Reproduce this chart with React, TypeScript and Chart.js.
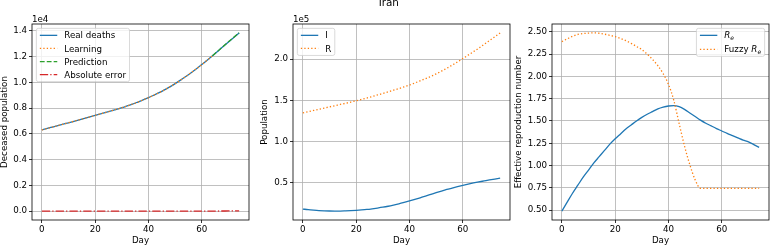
import React, { useEffect, useRef } from "react";
import { Chart, registerables } from "chart.js";

Chart.register(...registerables);

const FONT = "'DejaVu Sans', 'Liberation Sans', sans-serif";
const FS = 8.7;

// ---------- data ----------
const days = [0, 2, 4, 6, 8, 10, 12, 14, 16, 18, 20, 22, 24, 26, 28, 30, 32, 34, 36, 38, 40, 42, 44, 46, 48, 50, 52, 54, 56, 58, 60, 62, 64, 66, 68, 70, 72, 74];
const learningDays = [0, 2, 4, 6, 8, 10, 12, 14, 16, 18, 20, 22, 24, 26, 28, 30, 32, 34, 36, 38, 40, 42, 44, 46, 48, 50, 52, 54, 56, 58, 60, 62, 64];
const predictionDays = [64, 66, 68, 70, 72, 74];

const deathsReal = [6310, 6420, 6530, 6640, 6750, 6860, 6975, 7090, 7200, 7315, 7430, 7545, 7660, 7780, 7905, 8030, 8170, 8310, 8470, 8635, 8810, 9000, 9200, 9420, 9650, 9900, 10170, 10450, 10750, 11060, 11380, 11720, 12070, 12420, 12780, 13140, 13490, 13840];
const deathsLearning = [6305, 6415, 6528, 6640, 6752, 6862, 6975, 7088, 7202, 7316, 7432, 7548, 7664, 7783, 7906, 8033, 8168, 8312, 8468, 8636, 8812, 9002, 9204, 9418, 9652, 9902, 10168, 10452, 10748, 11062, 11378, 11722, 12068];
const deathsPrediction = [12068, 12425, 12788, 13150, 13500, 13855];
const absError = [5, 5, 2, 0, 2, 2, 0, 2, 2, 1, 2, 3, 4, 3, 1, 3, 2, 2, 2, 1, 2, 2, 4, 2, 2, 2, 2, 2, 2, 2, 2, 2, 2, 5, 8, 10, 10, 15];

const infected = [17800, 17000, 16400, 15900, 15600, 15400, 15300, 15300, 15500, 15800, 16200, 16700, 17300, 18100, 19000, 20000, 21200, 22600, 24100, 25800, 27600, 29500, 31500, 33500, 35600, 37700, 39700, 41600, 43300, 45000, 46600, 48100, 49500, 50800, 52000, 53200, 54300, 55400];
const recovered = [134800, 136200, 137700, 139100, 140600, 142100, 143500, 145000, 146400, 147900, 149400, 151100, 152800, 154600, 156500, 158400, 160300, 162300, 164300, 166400, 168600, 171100, 173700, 176300, 179100, 182100, 185500, 189000, 192800, 196700, 200800, 205000, 209200, 213500, 218200, 222800, 227400, 232000];

const reEffective = [0.49, 0.59, 0.69, 0.78, 0.87, 0.95, 1.03, 1.1, 1.17, 1.24, 1.3, 1.355, 1.41, 1.455, 1.5, 1.54, 1.575, 1.605, 1.635, 1.655, 1.668, 1.672, 1.66, 1.63, 1.59, 1.55, 1.51, 1.475, 1.445, 1.415, 1.388, 1.36, 1.335, 1.31, 1.285, 1.265, 1.235, 1.205];
const reFuzzy = [2.39, 2.42, 2.45, 2.47, 2.48, 2.485, 2.487, 2.483, 2.473, 2.46, 2.445, 2.425, 2.4, 2.37, 2.335, 2.3, 2.25, 2.19, 2.12, 2.03, 1.91, 1.73, 1.47, 1.22, 1.01, 0.84, 0.745, 0.745, 0.745, 0.745, 0.745, 0.745, 0.745, 0.745, 0.745, 0.745, 0.745, 0.745];

const xTicks = [0, 20, 40, 60];
const yTicksDeaths = [0, 2000, 4000, 6000, 8000, 10000, 12000, 14000];
const yTicksPopulation = [50000, 100000, 150000, 200000];
const yTicksRe = [0.5, 0.75, 1.0, 1.25, 1.5, 1.75, 2.0, 2.25, 2.5];

// ---------- styles ----------
const C0 = "#1f77b4";
const C1 = "#ff7f0e";
const C2 = "#2ca02c";
const C3 = "#d62728";
const LW = 1.3;
const SOLID: number[] = [];
const DOT = [1.3, 2.15];
const DASH = [4.8, 2.1];
const DASHDOT = [8.3, 2.1, 1.3, 2.1];

type Seg = { text: string; italic?: boolean; sub?: boolean };
type LegendEntry = { label: Seg[]; color: string; dash: number[] };

interface PanelSpec {
  left: number;
  width: number;
  yAxisWidth: number;
  rightPad: number;
  datasets: any[];
  yTicks: number[];
  yFormat: (v: number) => string;
  yTitle: string;
  yRange: { min: number; max: number };
  offsetText?: string;
  legend: LegendEntry[];
  legendCorner: "left" | "right";
  rowStep: number;
}

function pairs(xs: number[], ys: number[]) {
  return xs.map((x, i) => ({ x, y: ys[i] }));
}

function padRange(values: number[]) {
  const lo = Math.min(...values);
  const hi = Math.max(...values);
  const m = (hi - lo) * 0.05;
  return { min: lo - m, max: hi + m };
}

function line(label: string, xs: number[], ys: number[], color: string, dash: number[], order: number) {
  return {
    label,
    data: pairs(xs, ys),
    borderColor: color,
    backgroundColor: color,
    borderWidth: LW,
    borderDash: dash,
    borderCapStyle: "butt",
    pointRadius: 0,
    cubicInterpolationMode: "monotone",
    fill: false,
    order,
  };
}

function segFont(s: Seg) {
  if (s.sub) return `italic ${FS * 0.7}px ${FONT}`;
  if (s.italic) return `italic ${FS}px ${FONT}`;
  return `${FS}px ${FONT}`;
}

function mplPlugin(spec: PanelSpec) {
  return {
    id: "mplDecor",
    afterDatasetsDraw(chart: any) {
      const { ctx, chartArea: ca } = chart;
      ctx.save();
      // spines
      ctx.setLineDash([]);
      ctx.strokeStyle = "#000";
      ctx.lineWidth = 0.8;
      ctx.strokeRect(ca.left, ca.top, ca.right - ca.left, ca.bottom - ca.top);

      // offset text
      if (spec.offsetText) {
        ctx.fillStyle = "#000";
        ctx.font = `${FS}px ${FONT}`;
        ctx.textAlign = "left";
        ctx.textBaseline = "alphabetic";
        ctx.fillText(spec.offsetText, ca.left, ca.top - 2);
      }

      // legend
      const pad = 3.5;
      const handle = 17.4;
      const gap = 7;
      const widths = spec.legend.map((e) =>
        e.label.reduce((acc, s) => {
          ctx.font = segFont(s);
          return acc + ctx.measureText(s.text).width;
        }, 0)
      );
      const textW = Math.max(...widths);
      const boxW = pad + handle + gap + textW + pad;
      const n = spec.legend.length;
      const boxH = 7 + (n - 1) * spec.rowStep + 7;
      const bx = spec.legendCorner === "left" ? ca.left + 4.35 : ca.right - 4.35 - boxW;
      const by = ca.top + 4.35;

      ctx.beginPath();
      const r = 2;
      ctx.moveTo(bx + r, by);
      ctx.lineTo(bx + boxW - r, by);
      ctx.arcTo(bx + boxW, by, bx + boxW, by + r, r);
      ctx.lineTo(bx + boxW, by + boxH - r);
      ctx.arcTo(bx + boxW, by + boxH, bx + boxW - r, by + boxH, r);
      ctx.lineTo(bx + r, by + boxH);
      ctx.arcTo(bx, by + boxH, bx, by + boxH - r, r);
      ctx.lineTo(bx, by + r);
      ctx.arcTo(bx, by, bx + r, by, r);
      ctx.closePath();
      ctx.fillStyle = "rgba(255,255,255,0.8)";
      ctx.fill();
      ctx.strokeStyle = "rgba(204,204,204,0.8)";
      ctx.lineWidth = 0.9;
      ctx.stroke();

      spec.legend.forEach((e, i) => {
        const cy = by + 7 + i * spec.rowStep;
        ctx.beginPath();
        ctx.setLineDash(e.dash);
        ctx.lineCap = "butt";
        ctx.strokeStyle = e.color;
        ctx.lineWidth = LW;
        ctx.moveTo(bx + pad, cy);
        ctx.lineTo(bx + pad + handle, cy);
        ctx.stroke();
        ctx.setLineDash([]);
        let tx = bx + pad + handle + gap;
        const base = cy + 3.1;
        ctx.fillStyle = "#000";
        ctx.textAlign = "left";
        ctx.textBaseline = "alphabetic";
        e.label.forEach((s) => {
          ctx.font = segFont(s);
          ctx.fillText(s.text, tx, s.sub ? base + 1.8 : base);
          tx += ctx.measureText(s.text).width;
        });
      });
      ctx.restore();
    },
  };
}

function makeConfig(spec: PanelSpec): any {
  const tickFont = { family: FONT, size: FS, lineHeight: 1 };
  return {
    type: "line",
    data: { datasets: spec.datasets },
    plugins: [mplPlugin(spec)],
    options: {
      animation: false,
      responsive: false,
      devicePixelRatio: 1,
      layout: { padding: { left: 0, right: spec.rightPad, top: 24, bottom: 0 } },
      plugins: { legend: { display: false }, tooltip: { enabled: false }, title: { display: false } },
      scales: {
        x: {
          type: "linear",
          min: -3.7,
          max: 77.7,
          afterBuildTicks: (scale: any) => {
            scale.ticks = xTicks.map((v) => ({ value: v }));
          },
          afterFit: (scale: any) => {
            scale.height = 27;
          },
          ticks: {
            autoSkip: false,
            maxRotation: 0,
            color: "#000",
            font: tickFont,
            padding: 2,
            callback: (v: number) => String(v),
          },
          grid: { color: "#b0b0b0", lineWidth: 0.8, tickLength: 3, tickColor: "#000", drawTicks: true },
          border: { display: false },
          title: {
            display: true,
            text: "Day",
            color: "#000",
            font: { family: FONT, size: FS, lineHeight: 1 },
            padding: { top: 0, bottom: 2 },
          },
        },
        y: {
          type: "linear",
          min: spec.yRange.min,
          max: spec.yRange.max,
          afterBuildTicks: (scale: any) => {
            scale.ticks = spec.yTicks.map((v) => ({ value: v }));
          },
          afterFit: (scale: any) => {
            scale.width = spec.yAxisWidth;
          },
          ticks: {
            autoSkip: false,
            color: "#000",
            font: tickFont,
            padding: 2,
            callback: (v: number) => spec.yFormat(v),
          },
          grid: { color: "#b0b0b0", lineWidth: 0.8, tickLength: 3, tickColor: "#000", drawTicks: true },
          border: { display: false },
          title: {
            display: true,
            text: spec.yTitle,
            color: "#000",
            font: { family: FONT, size: FS, lineHeight: 1 },
            padding: 0,
          },
        },
      },
    },
  };
}

const panels: PanelSpec[] = [
  {
    left: 0,
    width: 260,
    yAxisWidth: 32,
    rightPad: 11,
    datasets: [
      line("Real deaths", days, deathsReal, C0, SOLID, 4),
      line("Learning", learningDays, deathsLearning, C1, DOT, 3),
      line("Prediction", predictionDays, deathsPrediction, C2, DASH, 2),
      line("Absolute error", days, absError, C3, DASHDOT, 1),
    ],
    yTicks: yTicksDeaths,
    yFormat: (v) => (v / 1e4).toFixed(1),
    yTitle: "Deceased population",
    yRange: padRange([...deathsReal, ...absError]),
    offsetText: "1e4",
    legend: [
      { label: [{ text: "Real deaths" }], color: C0, dash: SOLID },
      { label: [{ text: "Learning" }], color: C1, dash: DOT },
      { label: [{ text: "Prediction" }], color: C2, dash: DASH },
      { label: [{ text: "Absolute error" }], color: C3, dash: DASHDOT },
    ],
    legendCorner: "left",
    rowStep: 13.1,
  },
  {
    left: 260,
    width: 255,
    yAxisWidth: 33,
    rightPad: 5,
    datasets: [line("I", days, infected, C0, SOLID, 2), line("R", days, recovered, C1, DOT, 1)],
    yTicks: yTicksPopulation,
    yFormat: (v) => (v / 1e5).toFixed(1),
    yTitle: "Population",
    yRange: padRange([...infected, ...recovered]),
    offsetText: "1e5",
    legend: [
      { label: [{ text: "I" }], color: C0, dash: SOLID },
      { label: [{ text: "R" }], color: C1, dash: DOT },
    ],
    legendCorner: "left",
    rowStep: 13.1,
  },
  {
    left: 514,
    width: 256,
    yAxisWidth: 38,
    rightPad: 1,
    datasets: [line("Re", days, reEffective, C0, SOLID, 2), line("Fuzzy Re", days, reFuzzy, C1, DOT, 1)],
    yTicks: yTicksRe,
    yFormat: (v) => v.toFixed(2),
    yTitle: "Effective reproduction number",
    yRange: padRange([...reEffective, ...reFuzzy]),
    legend: [
      { label: [{ text: "R", italic: true }, { text: "e", sub: true }], color: C0, dash: SOLID },
      { label: [{ text: "Fuzzy " }, { text: "R", italic: true }, { text: "e", sub: true }], color: C1, dash: DOT },
    ],
    legendCorner: "right",
    rowStep: 14,
  },
];

function Panel({ spec }: { spec: PanelSpec }) {
  const ref = useRef<HTMLCanvasElement | null>(null);
  useEffect(() => {
    if (!ref.current) return;
    const chart = new Chart(ref.current, makeConfig(spec));
    return () => chart.destroy();
  }, [spec]);
  return (
    <canvas
      ref={ref}
      width={spec.width}
      height={247}
      style={{ position: "absolute", left: spec.left, top: 0, width: spec.width, height: 247 }}
    />
  );
}

export default function App() {
  return (
    <div
      style={{
        position: "fixed",
        left: 0,
        top: 0,
        width: 770,
        height: 247,
        background: "#fff",
        overflow: "hidden",
      }}
    >
      {panels.map((p, i) => (
        <Panel key={i} spec={p} />
      ))}
      <div
        style={{
          position: "absolute",
          left: 388.8,
          top: -3.5,
          transform: "translateX(-50%)",
          fontFamily: FONT,
          fontSize: 10.4,
          lineHeight: "10.4px",
          color: "#000",
          whiteSpace: "nowrap",
        }}
      >
        Iran
      </div>
    </div>
  );
}
